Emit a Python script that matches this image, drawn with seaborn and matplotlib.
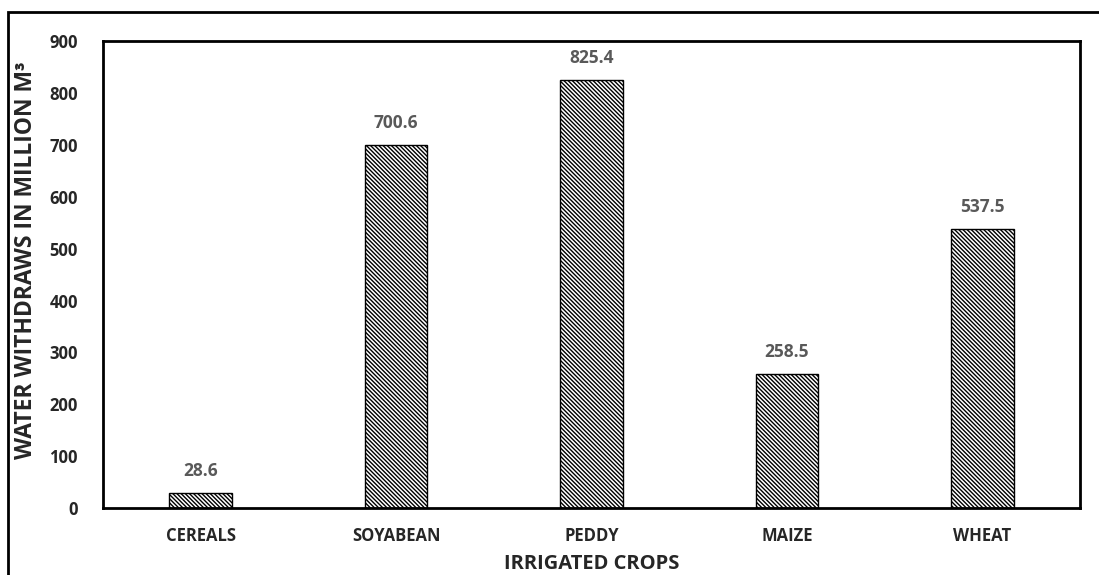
import matplotlib
matplotlib.use("Agg")
import matplotlib.pyplot as plt
import matplotlib.patches as mpatches
import seaborn as sns
import pandas as pd

crops = ["CEREALS", "SOYABEAN", "PEDDY", "MAIZE", "WHEAT"]
withdrawals = [28.6, 700.6, 825.4, 258.5, 537.5]
y_ticks = [0, 100, 200, 300, 400, 500, 600, 700, 800, 900]

df = pd.DataFrame({"crop": crops, "value": withdrawals})

sns.set_theme(style="white")
plt.rcParams["font.family"] = ["Open Sans", "DejaVu Sans"]
plt.rcParams["hatch.linewidth"] = 1.0

fig = plt.figure(figsize=(10.99, 5.75), dpi=100)
ax = fig.add_axes([0.0937, 0.1165, 0.889, 0.812])

sns.barplot(data=df, x="crop", y="value", ax=ax, color="white",
            edgecolor="black", linewidth=1.0, width=0.32, saturation=1)
for p in ax.patches:
    p.set_hatch("\\" * 8)

for i, v in enumerate(withdrawals):
    ax.text(i, v + 25, f"{v:.1f}", ha="center", va="bottom",
            fontsize=12.5, fontweight="bold", color="#595959")

ax.set_ylim(0, 900)
ax.set_yticks(y_ticks)
ax.set_yticklabels([str(t) for t in y_ticks], fontsize=12, fontweight="bold", color="#262626")
ax.set_xticks(range(len(crops)))
ax.set_xticklabels(crops, fontsize=12, fontweight="bold", color="#262626")
ax.tick_params(axis="y", length=0, pad=18)
ax.tick_params(axis="x", length=0, pad=14)
ax.set_xlabel("IRRIGATED CROPS", fontsize=14.5, fontweight="bold", color="#262626", labelpad=6)
ax.set_ylabel("WATER WITHDRAWS IN MILLION M\u00b3", fontsize=16.5, fontweight="bold",
              color="#262626")
ax.yaxis.set_label_coords(-0.066, 0.53)
for s in ax.spines.values():
    s.set_visible(True)
    s.set_color("black")
    s.set_linewidth(2)

# outer frame
fig.patches.append(mpatches.Rectangle((0.0073, -0.1), 1.1, 1.079, transform=fig.transFigure,
                                      fill=False, edgecolor="black", linewidth=2))

fig.savefig("out.png", dpi=100)
